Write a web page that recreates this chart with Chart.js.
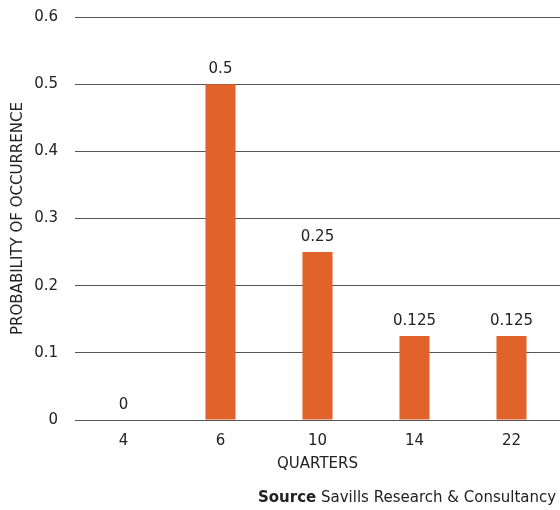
<!DOCTYPE html>
<html>
<head>
<meta charset="utf-8">
<script src="https://cdn.jsdelivr.net/npm/chart.js@4"></script>
<style>
  html, body { margin: 0; padding: 0; background: #fff; }
  #wrap { position: relative; width: 560px; height: 510px; overflow: hidden; }
  #source {
    position: absolute; left: 258px; top: 488px;
    font: 15px "DejaVu Sans", sans-serif; color: #222;
    white-space: nowrap;
  }
</style>
</head>
<body>
<div id="wrap">
  <canvas id="chart" width="560" height="510"></canvas>
  <div id="source"><b>Source</b> Savills Research &amp; Consultancy</div>
</div>
<script>
// 数据
const quarters = ['4', '6', '10', '14', '22'];
const probabilities = [0, 0.5, 0.25, 0.125, 0.125];
const yTicks = [0, 0.1, 0.2, 0.3, 0.4, 0.5, 0.6];

const FONT = '"DejaVu Sans", sans-serif';
const TEXT = '#222';

// 柱顶数值标签
const valueLabels = {
    id: 'valueLabels',
    afterDatasetsDraw(chart) {
        const ctx = chart.ctx;
        const meta = chart.getDatasetMeta(0);
        ctx.save();
        ctx.font = '15px ' + FONT;
        ctx.fillStyle = TEXT;
        ctx.textAlign = 'center';
        ctx.textBaseline = 'middle';
        meta.data.forEach((bar, i) => {
            ctx.fillText(String(probabilities[i]), bar.x, bar.y - 15);
        });
        ctx.restore();
    }
};

const ctx = document.getElementById('chart').getContext('2d');
new Chart(ctx, {
    type: 'bar',
    data: {
        labels: quarters,
        datasets: [{
            data: probabilities,
            backgroundColor: '#E1622A',
            barPercentage: 0.31,
            categoryPercentage: 1
        }]
    },
    options: {
        responsive: false,
        animation: false,
        layout: { padding: { top: 17, right: 0, bottom: 0, left: 0 } },
        plugins: {
            legend: { display: false },
            tooltip: { enabled: false }
        },
        scales: {
            x: {
                afterFit(axis) { axis.height = 90; },
                grid: { display: false },
                border: { display: false },
                ticks: { color: TEXT, font: { family: FONT, size: 15 }, padding: 4 },
                title: {
                    display: true,
                    text: 'QUARTERS',
                    color: TEXT,
                    font: { family: FONT, size: 15 },
                    padding: { top: 0, bottom: 37 }
                }
            },
            y: {
                min: 0,
                max: 0.6,
                afterBuildTicks(axis) {
                    axis.ticks = yTicks.map(v => ({ value: v }));
                },
                afterFit(axis) {
                    axis.width = 75;
                    axis.paddingTop = 0;
                    axis.paddingBottom = 0;
                },
                grid: { color: '#555', drawTicks: false, lineWidth: 1 },
                border: { display: false },
                ticks: {
                    color: TEXT,
                    font: { family: FONT, size: 15 },
                    padding: 17,
                    callback: v => String(v)
                },
                title: {
                    display: true,
                    text: 'PROBABILITY OF OCCURRENCE',
                    color: TEXT,
                    font: { family: FONT, size: 15 },
                    padding: { top: 9, bottom: 0 }
                }
            }
        }
    },
    plugins: [valueLabels]
});
</script>
</body>
</html>
